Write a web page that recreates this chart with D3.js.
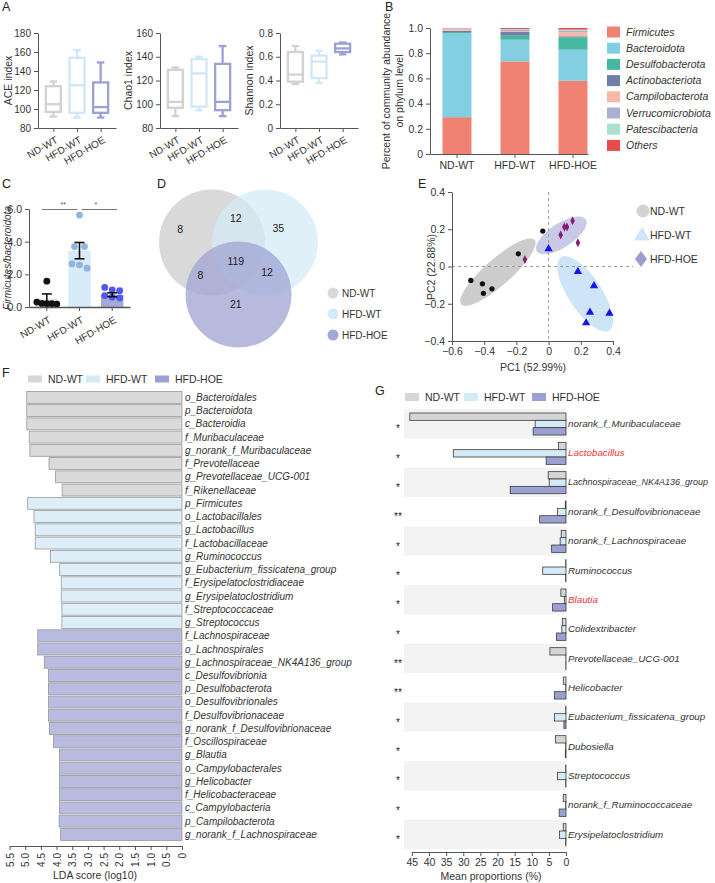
<!DOCTYPE html>
<html><head><meta charset="utf-8">
<script src="https://cdn.jsdelivr.net/npm/d3@7"></script>
<style>
body{margin:0;background:#fff;}
svg{display:block;font-family:Arial,"Liberation Sans",sans-serif;}
</style></head>
<body><svg id="chart" width="715" height="883"></svg>
<script>
// ================= DATA =================
const groups = ["ND-WT", "HFD-WT", "HFD-HOE"];

// Panel A: box stats [min, q1, median, q3, max] per group
const aceStats = [[92, 97, 105, 124, 129], [91, 96, 125, 154, 162], [91, 96, 102, 128, 149]];
const chao1Stats = [[90, 97, 102, 129, 131], [95, 98, 126, 138, 140], [90, 95, 102, 134, 149]];
const shannonStats = [[0.37, 0.39, 0.45, 0.64, 0.69], [0.38, 0.42, 0.56, 0.61, 0.65], [0.62, 0.64, 0.67, 0.71, 0.72]];
const aceTicks = [80, 100, 120, 140, 160, 180];
const chao1Ticks = [80, 100, 120, 140, 160];
const shannonTicks = [0, 0.2, 0.4, 0.6, 0.8];

// Panel B: phylum relative abundance
const phyla = ["Firmicutes", "Bacteroidota", "Desulfobacterota", "Actinobacteriota", "Campilobacterota", "Verrucomicrobiota", "Patescibacteria", "Others"];
const phylumNDWT = [0.292, 0.668, 0.008, 0.010, 0.012, 0.006, 0.002, 0.002];
const phylumHFDWT = [0.735, 0.172, 0.032, 0.029, 0.005, 0.015, 0.004, 0.008];
const phylumHFDHOE = [0.581, 0.247, 0.098, 0.008, 0.032, 0.012, 0.009, 0.013];
const abundanceTicks = [0, 0.2, 0.4, 0.6, 0.8, 1.0];

// Panel C: Firmicutes/Bacteroidota ratio
const ratioNDWT = [1.58, 0.30, 0.22, 0.20, 0.18, 0.20];
const ratioHFDWT = [5.63, 3.70, 3.70, 2.64, 2.38, 2.58];
const ratioHFDHOE = [1.20, 1.05, 1.00, 0.70, 0.60, 0.55];
const ratioMean = [0.50, 3.45, 0.75];
const ratioErr = [0.30, 0.50, 0.12];
const ratioTicks = [0, 2, 4, 6];
const ratioSig = [{from: 0, to: 1, label: "**"}, {from: 1, to: 2, label: "*"}];

// Panel D: Venn counts (region membership flags: ND-WT, HFD-WT, HFD-HOE)
const vennRegions = ["100", "110", "010", "111", "101", "011", "001"];
const vennCounts = [8, 12, 35, 119, 8, 12, 21];

// Panel E: PCA coordinates [PC1, PC2]
const pcaNDWT = [[-0.483, -0.075], [-0.411, -0.093], [-0.405, -0.144], [-0.352, -0.120], [-0.188, 0.068], [-0.036, 0.190]];
const pcaHFDWT = [[0.000, 0.095], [0.182, -0.027], [0.282, -0.104], [0.257, -0.246], [0.378, -0.251], [0.233, -0.303]];
const pcaHFDHOE = [[-0.147, 0.038], [0.075, 0.169], [0.098, 0.212], [0.114, 0.212], [0.149, 0.246], [0.182, 0.127]];
// confidence ellipses: major axis end points (PC1,PC2,PC1,PC2) and minor/major ratio
const ellipseNDWT = [-0.543, -0.204, -0.087, 0.143, 0.27];
const ellipseHFDWT = [0.077, 0.050, 0.378, -0.344, 0.38];
const ellipseHFDHOE = [-0.073, 0.081, 0.231, 0.253, 0.41];
const pc1Ticks = [-0.6, -0.4, -0.2, 0, 0.2, 0.4];
const pc2Ticks = [-0.4, -0.2, 0, 0.2, 0.4];

// Panel F: LEfSe LDA
const ldaTaxa = ["o_Bacteroidales", "p_Bacteroidota", "c_Bacteroidia", "f_Muribaculaceae", "g_norank_f_Muribaculaceae", "f_Prevotellaceae", "g_Prevotellaceae_UCG-001", "f_Rikenellaceae",
  "p_Firmicutes", "o_Lactobacillales", "g_Lactobacillus", "f_Lactobacillaceae", "g_Ruminococcus", "g_Eubacterium_fissicatena_group", "f_Erysipelatoclostridiaceae", "g_Erysipelatoclostridium", "f_Streptococcaceae", "g_Streptococcus",
  "f_Lachnospiraceae", "o_Lachnospirales", "g_Lachnospiraceae_NK4A136_group", "c_Desulfovibrionia", "p_Desulfobacterota", "o_Desulfovibrionales", "f_Desulfovibrionaceae", "g_norank_f_Desulfovibrionaceae", "f_Oscillospiraceae", "g_Blautia", "o_Campylobacterales", "g_Helicobacter", "f_Helicobacteraceae", "c_Campylobacteria", "p_Campilobacterota", "g_norank_f_Lachnospiraceae"];
const ldaScores = [4.95, 4.95, 4.95, 4.87, 4.85, 4.24, 4.03, 3.82,
  4.92, 4.72, 4.68, 4.68, 4.20, 3.90, 3.85, 3.85, 3.83, 3.83,
  4.60, 4.60, 4.39, 4.26, 4.26, 4.26, 4.26, 4.23, 4.10, 3.91, 3.91, 3.91, 3.91, 3.91, 3.92, 3.87];
const ldaGroup = [0, 0, 0, 0, 0, 0, 0, 0, 1, 1, 1, 1, 1, 1, 1, 1, 1, 1, 2, 2, 2, 2, 2, 2, 2, 2, 2, 2, 2, 2, 2, 2, 2, 2];
const ldaTicks = [0, 0.5, 1, 1.5, 2, 2.5, 3, 3.5, 4, 4.5, 5, 5.5];

// Panel G: mean proportions (%)
const genera = ["norank_f_Muribaculaceae", "Lactobacillus", "Lachnospiraceae_NK4A136_group", "norank_f_Desulfovibrionaceae", "norank_f_Lachnospiraceae", "Ruminococcus", "Blautia", "Colidextribacter", "Prevotellaceae_UCG-001", "Helicobacter", "Eubacterium_fissicatena_group", "Dubosiella", "Streptococcus", "norank_f_Ruminococcaceae", "Erysipelatoclostridium"];
const propNDWT = [45.6, 2.2, 5.2, 0.2, 1.4, 0.1, 1.5, 1.1, 4.7, 0.8, 0.1, 3.1, 0.1, 0.8, 0.8];
const propHFDWT = [9.0, 32.9, 4.9, 2.5, 1.7, 6.8, 0.5, 1.2, 0.05, 0.1, 3.4, 0.1, 2.5, 0.1, 1.9];
const propHFDHOE = [9.6, 5.8, 16.3, 7.7, 4.2, 0.1, 3.9, 2.8, 0.05, 3.4, 0.6, 0.2, 0.1, 2.0, 0.1];
const generaSig = ["*", "*", "*", "**", "*", "*", "*", "*", "**", "**", "*", "*", "*", "*", "*"];
const highlightGenera = ["Lactobacillus", "Blautia"];
const propTicks = [0, 5, 10, 15, 20, 25, 30, 35, 40, 45];

// ================= STYLE =================
const boxColors = ["#d2d2d2", "#cfe7f6", "#9ca0d3"];
const phylumColors = ["#ef8272", "#82cfe2", "#46b89f", "#6f7fa8", "#f6b9a6", "#aab0d2", "#a9e0d0", "#e84b4b"];
const cBarFill = ["#e3e3e3", "#d8ebf8", "#a6aad9"];
const cPointFill = ["#111111", "#8fb4e2", "#5058ef"];
const vennFill = ["#d9d9d9", "#d4eaf7", "#a3a7d4"];
const vennOpacity = [1, 0.72, 0.78];
const ellFill = ["#cdcdcd", "#cde5f6", "#c9cae6"];
const pcaFill = ["#111111", "#1414f0", "#8a1a78"];
const fFill = ["#dadada", "#ddeef8", "#b9bce0"];
const gFill = ["#d5d5d5", "#d4eaf7", "#9ba0d2"];
const legFill = ["#d6d6d6", "#d4eaf7", "#9ba0d2"];
const textColor = "#333";

const svg = d3.select("#chart");
svg.append("rect").attr("width", 715).attr("height", 883).attr("fill", "#fff");

function styleAxis(g) {
  g.selectAll("text").attr("font-size", 10).attr("fill", textColor).attr("font-family", "Arial, 'Liberation Sans', sans-serif");
  g.selectAll("path, line").attr("stroke", "#555").attr("stroke-width", 1);
}
function panelLabel(t, x, y) {
  svg.append("text").attr("x", x).attr("y", y).attr("font-size", 12.5).attr("fill", "#222").text(t);
}
const fmt1 = d => d === 0 ? "0" : d3.format(".1f")(d);

// ================= PANEL A =================
panelLabel("A", 2, 11);
const aPanels = [
  {stats: aceStats, domain: [80, 180], ticks: aceTicks, label: "ACE index", x0: 38, x1: 116, lx: 12, fmt: d => d},
  {stats: chao1Stats, domain: [80, 160], ticks: chao1Ticks, label: "Chao1 index", x0: 160, x1: 238, lx: 132, fmt: d => d},
  {stats: shannonStats, domain: [0, 0.8], ticks: shannonTicks, label: "Shannon index", x0: 280, x1: 358, lx: 253, fmt: fmt1}
];
const aTop = 33, aBot = 128;
aPanels.forEach(p => {
  const x = d3.scalePoint().domain(groups).range([p.x0, p.x1]).padding(0.65);
  const y = d3.scaleLinear().domain(p.domain).range([aBot, aTop]);
  const bw = 15;
  p.stats.forEach((s, i) => {
    const cx = x(groups[i]);
    const g = svg.append("g").attr("stroke", boxColors[i]).attr("stroke-width", 2.3).attr("fill", "none");
    g.append("line").attr("x1", cx).attr("x2", cx).attr("y1", y(s[0])).attr("y2", y(s[1]));
    g.append("line").attr("x1", cx).attr("x2", cx).attr("y1", y(s[3])).attr("y2", y(s[4]));
    [s[0], s[4]].forEach(v => g.append("line").attr("x1", cx - bw / 4).attr("x2", cx + bw / 4).attr("y1", y(v)).attr("y2", y(v)));
    g.append("rect").attr("x", cx - bw / 2).attr("y", y(s[3])).attr("width", bw).attr("height", y(s[1]) - y(s[3])).attr("fill", "#fff");
    g.append("line").attr("x1", cx - bw / 2).attr("x2", cx + bw / 2).attr("y1", y(s[2])).attr("y2", y(s[2]));
  });
  const gy = svg.append("g").attr("transform", `translate(${p.x0},0)`)
    .call(d3.axisLeft(y).tickValues(p.ticks).tickSize(4).tickSizeOuter(0).tickFormat(p.fmt));
  styleAxis(gy);
  const gx = svg.append("g").attr("transform", `translate(0,${aBot})`)
    .call(d3.axisBottom(x).tickSize(4).tickSizeOuter(0));
  styleAxis(gx);
  gx.selectAll(".tick text").attr("x", 0).attr("y", 0).attr("dy", "0.35em")
    .attr("transform", "translate(3,11) rotate(-30)").attr("text-anchor", "end");
  svg.append("text").attr("transform", `translate(${p.lx},${(aTop + aBot) / 2}) rotate(-90)`)
    .attr("text-anchor", "middle").attr("font-size", 10.5).attr("fill", textColor).text(p.label);
});

// ================= PANEL B =================
panelLabel("B", 385, 11);
{
  const xB = d3.scaleBand().domain(groups).range([430, 588]).paddingInner(0.5).paddingOuter(0.112).align(0.96);
  const yB = d3.scaleLinear().domain([0, 1]).range([154, 28]);
  const pd = [phylumNDWT, phylumHFDWT, phylumHFDHOE];
  const input = groups.map((g, i) => { const o = {group: g}; phyla.forEach((p, j) => o[p] = pd[i][j]); return o; });
  const series = d3.stack().keys(phyla)(input);
  series.forEach((s, k) => {
    svg.append("g").attr("fill", phylumColors[k]).selectAll("rect").data(s).join("rect")
      .attr("x", d => xB(d.data.group)).attr("width", xB.bandwidth())
      .attr("y", d => yB(d[1])).attr("height", d => Math.max(0, yB(d[0]) - yB(d[1])));
  });
  const gy = svg.append("g").attr("transform", "translate(430,0)")
    .call(d3.axisLeft(yB).tickValues(abundanceTicks).tickSize(4).tickSizeOuter(0).tickFormat(fmt1));
  styleAxis(gy);
  gy.selectAll("text").attr("font-size", 10.5);
  const gx = svg.append("g").attr("transform", "translate(0,154)").call(d3.axisBottom(xB).tickSize(4).tickSizeOuter(0));
  styleAxis(gx);
  gx.selectAll("text").attr("font-size", 10.5).attr("y", 8);
  const yl = svg.append("text").attr("transform", "translate(390,91) rotate(-90)").attr("text-anchor", "middle")
    .attr("font-size", 10.5).attr("fill", textColor);
  yl.append("tspan").attr("x", 0).attr("dy", 0).text("Percent of community abundance");
  yl.append("tspan").attr("x", 0).attr("dy", "1.2em").text("on phylum level");
  const lg = svg.append("g").selectAll("g").data(phyla).join("g")
    .attr("transform", (d, i) => `translate(607,${32 + i * 16.2})`);
  lg.append("rect").attr("x", 0).attr("y", -5.5).attr("width", 13).attr("height", 11).attr("fill", (d, i) => phylumColors[i]);
  lg.append("text").attr("x", 19).attr("dy", "0.35em").attr("font-size", 10.5).attr("font-style", "italic")
    .attr("fill", textColor).text(d => d);
}

// ================= PANEL C =================
panelLabel("C", 2, 188);
{
  const xC = d3.scaleBand().domain(groups).range([29, 130]).paddingInner(0.31).paddingOuter(0.2);
  const yC = d3.scaleLinear().domain([0, 6]).range([307, 209]);
  const pts = [ratioNDWT, ratioHFDWT, ratioHFDHOE];
  svg.append("g").selectAll("rect").data(groups).join("rect")
    .attr("x", d => xC(d)).attr("width", xC.bandwidth())
    .attr("y", (d, i) => yC(ratioMean[i])).attr("height", (d, i) => yC(0) - yC(ratioMean[i]))
    .attr("fill", (d, i) => cBarFill[i]);
  pts.forEach((vals, gi) => {
    const cx = xC(groups[gi]) + xC.bandwidth() / 2;
    const sorted = vals.map((v, i) => ({v, i})).sort((a, b) => b.v - a.v);
    const clusters = [];
    sorted.forEach(p => {
      const last = clusters[clusters.length - 1];
      if (last && Math.abs(yC(last[last.length - 1].v) - yC(p.v)) < 3.5) last.push(p); else clusters.push([p]);
    });
    clusters.forEach(cl => {
      const k = cl.length;
      const spread = k <= 1 ? 0 : Math.min(20, 10 + 5 * (k - 2));
      cl.forEach((p, j) => {
        const off = k <= 1 ? 0 : -spread / 2 + j * spread / (k - 1);
        svg.append("circle").attr("cx", cx + off).attr("cy", yC(p.v)).attr("r", 3.4).attr("fill", cPointFill[gi]);
      });
    });
    const eg = svg.append("g").attr("stroke", "#111").attr("stroke-width", 1.6);
    const lo = ratioMean[gi] - ratioErr[gi], hi = ratioMean[gi] + ratioErr[gi];
    eg.append("line").attr("x1", cx).attr("x2", cx).attr("y1", yC(lo)).attr("y2", yC(hi));
    [lo, hi].forEach(v => eg.append("line").attr("x1", cx - 5).attr("x2", cx + 5).attr("y1", yC(v)).attr("y2", yC(v)));
  });
  ratioSig.forEach(s => {
    const x1 = xC(groups[s.from]) + xC.bandwidth() / 2 - 5, x2 = xC(groups[s.to]) + xC.bandwidth() / 2 + 5;
    const yy = yC(5.97);
    svg.append("line").attr("x1", s.from === 0 ? x1 : x1 + 7).attr("x2", s.to === 1 ? x2 - 7 : x2).attr("y1", yy).attr("y2", yy)
      .attr("stroke", "#777").attr("stroke-width", 1);
    svg.append("text").attr("x", (x1 + x2) / 2).attr("y", yy - 2).attr("text-anchor", "middle").attr("font-size", 7)
      .attr("fill", "#555").text(s.label);
  });
  const gy = svg.append("g").attr("transform", "translate(29,0)")
    .call(d3.axisLeft(yC).tickValues(ratioTicks).tickSize(4).tickSizeOuter(0));
  styleAxis(gy);
  gy.selectAll("text").attr("font-size", 10.5);
  const gx = svg.append("g").attr("transform", "translate(0,307)").call(d3.axisBottom(xC).tickSize(4).tickSizeOuter(0));
  styleAxis(gx);
  gx.select(".domain").attr("stroke-width", 1.5);
  gx.selectAll(".tick text").attr("x", 0).attr("y", 0).attr("dy", "0.35em")
    .attr("transform", "translate(3,12) rotate(-30)").attr("text-anchor", "end");
  svg.append("text").attr("transform", "translate(11,258) rotate(-90)").attr("text-anchor", "middle")
    .attr("font-size", 10).attr("font-style", "italic").attr("fill", textColor).text("Firmicutes/bacteroidota");
}

// ================= PANEL D =================
panelLabel("D", 157, 188);
{
  const unitCenters = [[-0.5, 0], [0.5, 0], [0, 0.98]];
  const vs = d3.scaleLinear().domain([0, 1]).range([0, 53]);
  const ox = 238.5, oy = 242.5;
  unitCenters.forEach((c, i) => {
    svg.append("circle").attr("cx", ox + vs(c[0])).attr("cy", oy + vs(c[1])).attr("r", vs(1))
      .attr("fill", vennFill[i]).attr("fill-opacity", vennOpacity[i]);
  });
  const regionPos = {"100": [-1.10, -0.25], "110": [-0.05, -0.46], "010": [0.75, -0.27], "111": [-0.05, 0.35], "101": [-0.72, 0.62], "011": [0.54, 0.56], "001": [-0.05, 1.16]};
  vennRegions.forEach((r, i) => {
    svg.append("text").attr("x", ox + vs(regionPos[r][0])).attr("y", oy + vs(regionPos[r][1])).attr("dy", "0.35em")
      .attr("text-anchor", "middle").attr("font-size", 10.5).attr("fill", "#222").text(vennCounts[i]);
  });
  const lg = svg.append("g").selectAll("g").data(groups).join("g").attr("transform", (d, i) => `translate(333,${293 + i * 21})`);
  lg.append("circle").attr("r", 5.5).attr("fill", (d, i) => vennFill[i]);
  lg.append("text").attr("x", 9).attr("dy", "0.35em").attr("font-size", 10).attr("fill", textColor).text(d => d);
}

// ================= PANEL E =================
panelLabel("E", 418, 188);
{
  const xE = d3.scaleLinear().domain([-0.6, 0.4]).range([452, 613]);
  const yE = d3.scaleLinear().domain([-0.4, 0.4]).range([341, 192]);
  const ells = [ellipseNDWT, ellipseHFDWT, ellipseHFDHOE];
  ells.forEach((e, i) => {
    const p1 = [xE(e[0]), yE(e[1])], p2 = [xE(e[2]), yE(e[3])];
    const cx = (p1[0] + p2[0]) / 2, cy = (p1[1] + p2[1]) / 2;
    const rx = Math.hypot(p2[0] - p1[0], p2[1] - p1[1]) / 2;
    const ang = Math.atan2(p2[1] - p1[1], p2[0] - p1[0]) * 180 / Math.PI;
    svg.append("ellipse").attr("transform", `translate(${cx},${cy}) rotate(${ang})`)
      .attr("rx", rx).attr("ry", rx * e[4]).attr("fill", ellFill[i]);
  });
  svg.append("line").attr("x1", xE(0)).attr("x2", xE(0)).attr("y1", 192).attr("y2", 341)
    .attr("stroke", "#9a9a9a").attr("stroke-dasharray", "3,3");
  svg.append("line").attr("x1", 452).attr("x2", 633).attr("y1", yE(0)).attr("y2", yE(0))
    .attr("stroke", "#9a9a9a").attr("stroke-dasharray", "3,3");
  const sym = [d3.symbolCircle, d3.symbolTriangle, d3.symbolDiamond];
  const sizes = [22, 30, 0];
  [pcaNDWT, pcaHFDWT, pcaHFDHOE].forEach((arr, gi) => {
    arr.forEach(p => {
      const x = xE(p[0]), y = yE(p[1]);
      if (gi === 2) {
        svg.append("path").attr("d", `M${x},${y - 4.5}L${x + 2.3},${y}L${x},${y + 4.5}L${x - 2.3},${y}Z`).attr("fill", pcaFill[gi]);
      } else {
        svg.append("path").attr("transform", `translate(${x},${y})`).attr("d", d3.symbol(sym[gi], sizes[gi])()).attr("fill", pcaFill[gi]);
      }
    });
  });
  const gy = svg.append("g").attr("transform", "translate(452,0)")
    .call(d3.axisLeft(yE).tickValues(pc2Ticks).tickSize(4).tickSizeOuter(0).tickFormat(fmt1));
  styleAxis(gy);
  gy.selectAll("text").attr("font-size", 10.5);
  const gx = svg.append("g").attr("transform", "translate(0,341)")
    .call(d3.axisBottom(xE).tickValues(pc1Ticks).tickSize(4).tickSizeOuter(0).tickFormat(fmt1));
  styleAxis(gx);
  gx.selectAll("text").attr("font-size", 10.5);
  svg.append("text").attr("x", 533).attr("y", 371).attr("text-anchor", "middle").attr("font-size", 10.5).attr("fill", textColor).text("PC1 (52.99%)");
  svg.append("text").attr("transform", "translate(435,267) rotate(-90)").attr("text-anchor", "middle").attr("font-size", 10.5).attr("fill", textColor).text("PC2 (22.88%)");
  const legFillE = ["#d2d2d2", "#cfe6f7", "#9a9ed0"];
  const lg = svg.append("g").selectAll("g").data(groups).join("g").attr("transform", (d, i) => `translate(643,${211 + i * 24})`);
  lg.each(function (d, i) {
    const g = d3.select(this);
    if (i === 0) g.append("circle").attr("r", 6.5).attr("fill", legFillE[0]);
    if (i === 1) g.append("path").attr("d", d3.symbol(d3.symbolTriangle, 110)()).attr("transform", "translate(-1,1)").attr("fill", legFillE[1]);
    if (i === 2) g.append("path").attr("d", "M-2,-8L4,0L-2,8L-8,0Z").attr("fill", legFillE[2]);
  });
  lg.append("text").attr("x", 7).attr("dy", "0.35em").attr("font-size", 10.5).attr("fill", textColor).text(d => d);
}

// ================= LEGENDS F & G =================
function squareLegend(x0, y0, w, h, offsets) {
  groups.forEach((g, i) => {
    svg.append("rect").attr("x", x0 + offsets[i]).attr("y", y0 - h / 2).attr("width", w).attr("height", h).attr("fill", legFill[i]);
    svg.append("text").attr("x", x0 + offsets[i] + w + 6).attr("y", y0).attr("dy", "0.35em").attr("font-size", 10.5)
      .attr("fill", textColor).text(g);
  });
}

// ================= PANEL F =================
panelLabel("F", 2, 377);
squareLegend(28, 379, 14, 7, [0, 58, 127]);
{
  const xF = d3.scaleLinear().domain([0, 5.5]).range([182, 9.5]);
  const yF = d3.scaleBand().domain(ldaTaxa).range([391.4, 840.4]).paddingInner(0.1);
  svg.append("g").selectAll("rect").data(ldaTaxa).join("rect")
    .attr("x", (d, i) => xF(ldaScores[i])).attr("width", (d, i) => xF(0) - xF(ldaScores[i]))
    .attr("y", d => yF(d)).attr("height", yF.bandwidth())
    .attr("fill", (d, i) => fFill[ldaGroup[i]]).attr("stroke", "#999").attr("stroke-width", 0.8);
  svg.append("g").selectAll("text").data(ldaTaxa).join("text")
    .attr("x", 185).attr("y", d => yF(d) + yF.bandwidth() / 2).attr("dy", "0.35em")
    .attr("font-size", 10).attr("font-style", "italic").attr("fill", textColor).text(d => d);
  const gx = svg.append("g").attr("transform", "translate(0,846)")
    .call(d3.axisBottom(xF).tickValues(ldaTicks).tickSize(4).tickSizeOuter(0).tickFormat(fmt1));
  styleAxis(gx);
  gx.selectAll(".tick text").attr("x", -7).attr("y", 0).attr("dy", "0.35em").attr("transform", "rotate(-90)").attr("text-anchor", "end");
  svg.append("text").attr("x", 95).attr("y", 879).attr("text-anchor", "middle").attr("font-size", 10.5).attr("fill", textColor).text("LDA score (log10)");
}

// ================= PANEL G =================
panelLabel("G", 375, 395);
squareLegend(405, 397, 14, 8, [0, 59, 127]);
{
  const xG = d3.scaleLinear().domain([0, 47.3]).range([566, 404]);
  const xGAxis = d3.scaleLinear().domain([0, 45]).range([xG(0), xG(45)]);
  const yG = d3.scaleBand().domain(genera).range([409, 849]);
  const ySub = d3.scaleBand().domain(groups).range([4, yG.bandwidth() - 3.3]);
  svg.append("g").selectAll("rect").data(genera.filter((d, i) => i % 2 === 0)).join("rect")
    .attr("x", xG(47.3)).attr("width", xG(0) - xG(47.3)).attr("y", d => yG(d)).attr("height", yG.bandwidth()).attr("fill", "#f3f3f3");
  const vals = [propNDWT, propHFDWT, propHFDHOE];
  genera.forEach((gname, r) => {
    groups.forEach((grp, k) => {
      const v = vals[k][r];
      svg.append("rect").attr("x", xG(v)).attr("width", xG(0) - xG(v))
        .attr("y", yG(gname) + ySub(grp)).attr("height", ySub.bandwidth())
        .attr("fill", gFill[k]).attr("stroke", "#3c3c3c").attr("stroke-width", 0.8);
    });
  });
  const baseSize = 9.8;
  const labels = svg.append("g").selectAll("text").data(genera).join("text")
    .attr("x", 568).attr("y", d => yG(d) + yG.bandwidth() / 2).attr("dy", "0.35em")
    .attr("font-size", baseSize).attr("font-style", "italic")
    .attr("fill", d => highlightGenera.includes(d) ? "#e8333a" : textColor).text(d => d);
  // shrink only the labels that would run past the right edge
  const avail = 709 - 568;
  labels.each(function () {
    const w = this.getComputedTextLength();
    if (w > avail) d3.select(this).attr("font-size", Math.floor(baseSize * avail / w * 10) / 10);
  });
  svg.append("g").selectAll("text").data(genera).join("text")
    .attr("x", 398).attr("y", d => yG(d) + yG.bandwidth() / 2 + 8.5).attr("text-anchor", "middle")
    .attr("font-size", 10).attr("fill", "#222").text((d, i) => generaSig[i]);
  const gx = svg.append("g").attr("transform", "translate(0,852)")
    .call(d3.axisBottom(xGAxis).tickValues(propTicks).tickSize(4).tickSizeOuter(0));
  styleAxis(gx);
  gx.selectAll("text").attr("font-size", 10.5);
  svg.append("text").attr("x", 491).attr("y", 880).attr("text-anchor", "middle").attr("font-size", 10.5).attr("fill", textColor).text("Mean proportions (%)");
}
</script>
</body></html>
